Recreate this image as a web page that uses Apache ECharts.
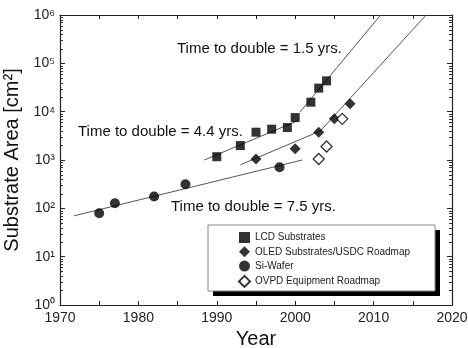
<!DOCTYPE html>
<html lang="en">
<head>
    <meta charset="UTF-8">
    <title>Substrate Area</title>
    <script src="https://cdn.jsdelivr.net/npm/echarts@6/dist/echarts.min.js"></script>
    <style>
        html, body { margin: 0; padding: 0; background: #fff; }
        #main { width: 468px; height: 348px; }
    </style>
</head>
<body>
    <div id="main"></div>
    <script type="text/javascript">
        // data
        var lcdYears = [1990, 1993, 1995, 1997, 1999, 2000, 2002, 2003, 2004];
        var lcdArea = [1170, 1990, 3760, 4340, 4690, 7550, 15700, 30700, 43400];
        var oledYears = [1995, 2000, 2003, 2005, 2007];
        var oledArea = [1050, 1700, 3760, 7100, 14500];
        var siYears = [1975, 1977, 1982, 1986, 1998];
        var siArea = [79, 127, 175, 315, 710];
        var ovpdYears = [2003, 2004, 2006];
        var ovpdArea = [1050, 1900, 7100];

        // fit lines (end points)
        var lcdSlowYears = [1988.4, 2000.3];
        var lcdSlowArea = [1000, 6460];
        var lcdFastYears = [2000.6, 2010.9];
        var lcdFastArea = [9800, 1000000];
        var oledFitYears = [1993, 2003.2, 2016.7];
        var oledFitArea = [794, 3980, 1000000];
        var siFitYears = [1971.8, 2000.9];
        var siFitArea = [70, 1000];

        // log axis minor tick values: 2..9 in each decade
        var decades = [1, 10, 100, 1000, 10000, 100000];
        var minorSteps = [2, 3, 4, 5, 6, 7, 8, 9];

        var seriesNames = ['LCD Substrates', 'OLED Substrates/USDC Roadmap', 'Si-Wafer', 'OVPD Equipment Roadmap'];
        var notes = ['Time to double = 1.5 yrs.', 'Time to double = 4.4 yrs.', 'Time to double = 7.5 yrs.'];

        function pairs(xs, ys) {
            return xs.map(function (x, i) { return [x, ys[i]]; });
        }

        var minorValues = [];
        decades.forEach(function (d) {
            minorSteps.forEach(function (s) { minorValues.push([1970, s * d]); });
        });

        var chart = echarts.init(document.getElementById('main'));
        var font = 'Liberation Sans, Arial, sans-serif';
        var supDigits = ['⁰', '¹', '²', '³', '⁴', '⁵', '⁶'];
        var xTick = { show: true, inside: true, length: 4, lineStyle: { color: '#222', width: 1 } };
        var yTick = { show: true, inside: true, length: 5, lineStyle: { color: '#222', width: 1 } };

        function fitLine(xs, ys) {
            return {
                type: 'line',
                data: pairs(xs, ys),
                symbol: 'none',
                silent: true,
                lineStyle: { color: '#555', width: 1 },
                z: 1
            };
        }

        var option = {
            animation: false,
            grid: { left: 60, right: 16, top: 15, bottom: 43, outerBoundsMode: 'none', containLabel: false },
            xAxis: [
                {
                    type: 'value', min: 1970, max: 2020, interval: 5,
                    name: 'Year', nameLocation: 'middle', nameGap: 23,
                    nameTextStyle: { fontFamily: font, fontSize: 20, color: '#111' },
                    axisLine: { lineStyle: { color: '#222', width: 1.2 } },
                    axisTick: xTick,
                    axisLabel: {
                        fontFamily: font, fontSize: 14, color: '#222', margin: 6,
                        formatter: function (v) { return v % 10 === 0 ? String(v) : ''; }
                    },
                    splitLine: { show: false }
                },
                {
                    type: 'value', min: 1970, max: 2020, interval: 5, position: 'top',
                    axisLine: { lineStyle: { color: '#222', width: 1.2 } },
                    axisTick: xTick,
                    axisLabel: { show: false },
                    splitLine: { show: false }
                }
            ],
            yAxis: [
                {
                    type: 'log', min: 1, max: 1000000, logBase: 10,
                    name: 'Substrate Area [cm²]', nameLocation: 'middle', nameGap: 30,
                    nameTextStyle: { fontFamily: font, fontSize: 20, color: '#111' },
                    axisLine: { show: true, lineStyle: { color: '#222', width: 1.2 } },
                    axisTick: yTick,
                    axisLabel: {
                        fontFamily: font, fontSize: 14, color: '#222', margin: 5,
                        formatter: function (v) {
                            var e = Math.round(Math.log10(v));
                            return '10' + supDigits[e];
                        }
                    },
                    splitLine: { show: false }
                },
                {
                    type: 'log', min: 1, max: 1000000, logBase: 10, position: 'right',
                    axisLine: { show: true, lineStyle: { color: '#222', width: 1.2 } },
                    axisTick: yTick,
                    axisLabel: { show: false },
                    splitLine: { show: false }
                }
            ],
            legend: {
                orient: 'vertical',
                left: 208, top: 226,
                data: seriesNames,
                itemWidth: 11, itemHeight: 11, itemGap: 3.3,
                padding: [6, 22, 5, 30],
                textStyle: { fontFamily: font, fontSize: 10, color: '#222' }
            },
            // legend frame + shadow and the "time to double" notes
            graphic: [
                { type: 'rect', shape: { x: 213, y: 230, width: 227, height: 66 }, style: { fill: '#000' }, z: 3 },
                { type: 'rect', shape: { x: 208, y: 225, width: 227, height: 66 }, style: { fill: '#fff', stroke: '#888', lineWidth: 1 }, z: 3 },
                { type: 'text', left: 177, top: 41, style: { text: notes[0], font: '15px ' + font, fill: '#111' } },
                { type: 'text', left: 78, top: 124, style: { text: notes[1], font: '15px ' + font, fill: '#111' } },
                { type: 'text', left: 171, top: 199, style: { text: notes[2], font: '15px ' + font, fill: '#111' } }
            ],
            series: [
                {
                    // minor ticks on the left and right log axes
                    type: 'custom',
                    silent: true,
                    clip: false,
                    data: minorValues,
                    z: 10,
                    renderItem: function (params, api) {
                        var l = api.coord([1970, api.value(1)]);
                        var r = api.coord([2020, api.value(1)]);
                        var y = Math.round(l[1]) + 0.5;
                        return {
                            type: 'group',
                            children: [
                                { type: 'line', shape: { x1: l[0], y1: y, x2: l[0] + 3, y2: y }, style: { stroke: '#333', lineWidth: 1 } },
                                { type: 'line', shape: { x1: r[0] - 3, y1: y, x2: r[0], y2: y }, style: { stroke: '#333', lineWidth: 1 } }
                            ]
                        };
                    }
                },
                fitLine(lcdSlowYears, lcdSlowArea),
                fitLine(lcdFastYears, lcdFastArea),
                fitLine(oledFitYears, oledFitArea),
                fitLine(siFitYears, siFitArea),
                {
                    name: seriesNames[0], type: 'scatter', symbol: 'rect', symbolSize: 9,
                    data: pairs(lcdYears, lcdArea), itemStyle: { color: '#000' }, z: 3
                },
                {
                    name: seriesNames[1], type: 'scatter', symbol: 'diamond', symbolSize: 11,
                    data: pairs(oledYears, oledArea), itemStyle: { color: '#000' }, z: 3
                },
                {
                    name: seriesNames[2], type: 'scatter', symbol: 'circle', symbolSize: 10,
                    data: pairs(siYears, siArea), itemStyle: { color: '#000' }, z: 3
                },
                {
                    name: seriesNames[3], type: 'scatter', symbol: 'diamond', symbolSize: 11,
                    data: pairs(ovpdYears, ovpdArea),
                    itemStyle: { color: '#fff', borderColor: '#000', borderWidth: 1.3 }, z: 3
                }
            ]
        };
        chart.setOption(option);
    </script>
</body>
</html>
